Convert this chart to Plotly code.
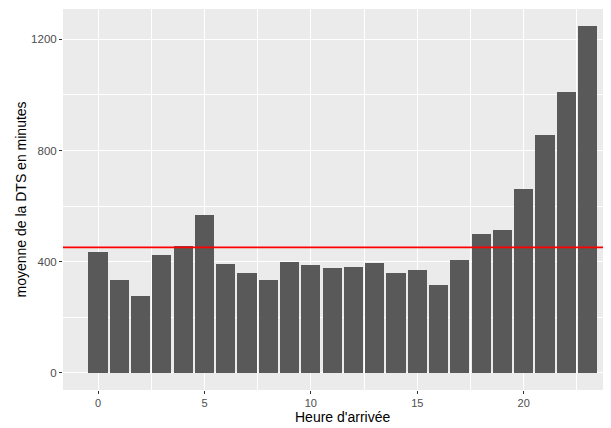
import plotly.graph_objects as go

hours = list(range(24))
mean_dts = [436, 332, 277, 422, 455, 569, 393, 360, 332, 400, 386, 378,
            382, 396, 360, 368, 317, 404, 501, 512, 660, 854, 1009, 1247]
overall_mean = 451
x_ticks = [0, 5, 10, 15, 20]
y_ticks = [0, 400, 800, 1200]

fig = go.Figure()
fig.add_trace(go.Bar(x=hours, y=mean_dts, width=0.9,
                     marker=dict(color="#595959", line=dict(width=0)),
                     showlegend=False))
fig.add_hline(y=overall_mean, line=dict(color="#FF0000", width=1.6), layer="above")

font_family = "Liberation Sans, Arial, sans-serif"
# page body has an 8px margin; the figure is sized to fit the 611x428 window
fig.update_layout(
    width=603, height=420,
    margin=dict(l=55, r=0, t=1, b=38, autoexpand=False),
    paper_bgcolor="white", plot_bgcolor="#EBEBEB",
    font=dict(family=font_family),
    bargap=0,
    xaxis=dict(
        range=[-1.645, 24.1], tickvals=x_ticks, ticktext=[str(v) for v in x_ticks],
        showgrid=True, gridcolor="white", gridwidth=1.1,
        minor=dict(tickvals=[-2.5, 2.5, 7.5, 12.5, 17.5, 22.5], showgrid=True,
                   gridcolor="white", gridwidth=0.55, ticks=""),
        ticks="outside", ticklen=3, tickcolor="#333333", tickwidth=1,
        tickfont=dict(size=11, color="#4D4D4D"),
        zeroline=False, showline=False, automargin=False,
    ),
    yaxis=dict(
        range=[-62.35, 1309.35], tickvals=y_ticks, ticktext=[str(v) for v in y_ticks],
        showgrid=True, gridcolor="white", gridwidth=1.1,
        minor=dict(tickvals=[200, 600, 1000], showgrid=True,
                   gridcolor="white", gridwidth=0.55, ticks=""),
        ticks="outside", ticklen=3, tickcolor="#333333", tickwidth=1,
        tickfont=dict(size=11.5, color="#4D4D4D"),
        zeroline=False, showline=False, automargin=False,
    ),
    annotations=[
        dict(text="Heure d'arrivée", xref="paper", yref="paper", x=0.51, y=0,
             xanchor="center", yanchor="middle", yshift=-27,
             showarrow=False, font=dict(size=14, color="black")),
        dict(text="moyenne de la DTS en minutes", xref="paper", yref="paper",
             x=0, y=0.5, xanchor="center", yanchor="middle", xshift=-43,
             textangle=-90, showarrow=False, font=dict(size=14, color="black")),
    ],
)

fig.write_html("out.html")
